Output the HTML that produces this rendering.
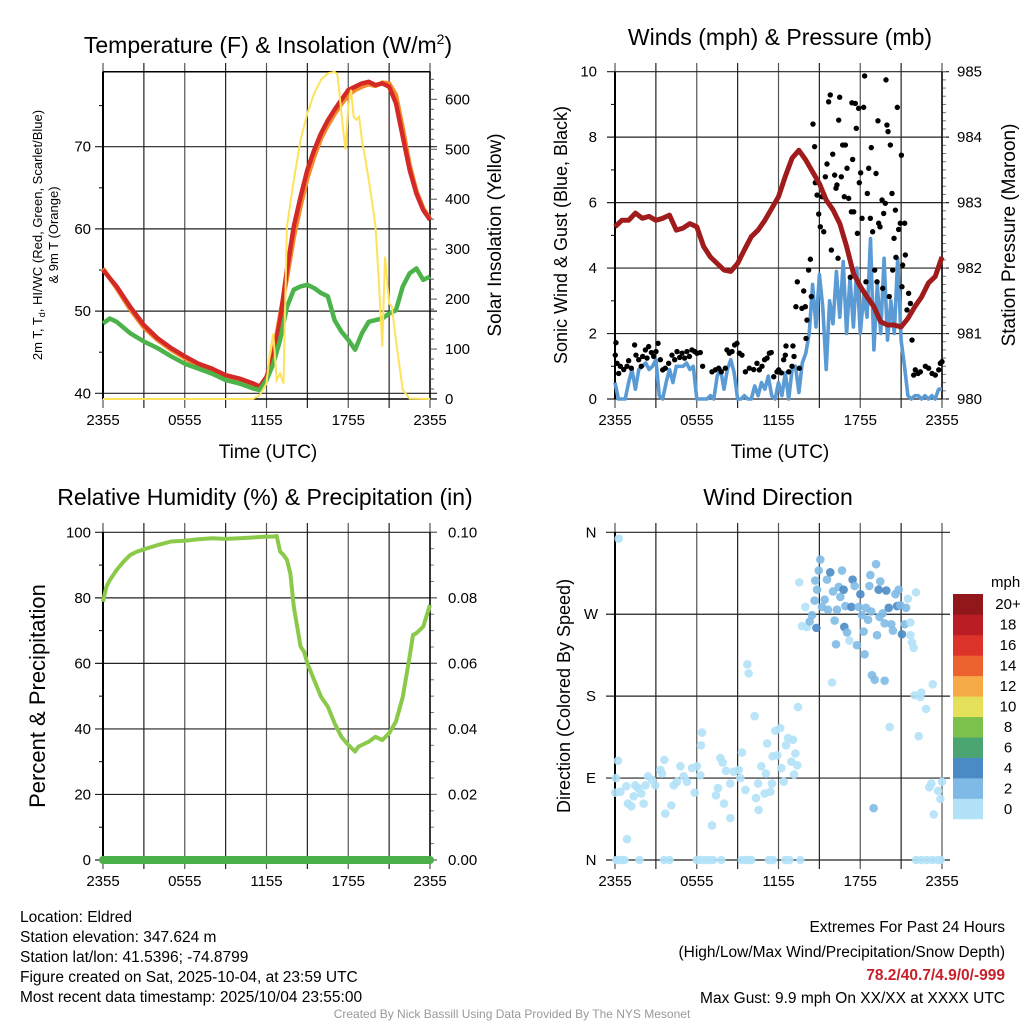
<!DOCTYPE html>
<html><head><meta charset="utf-8"><style>
html,body{margin:0;padding:0;background:#fff;}
svg{display:block;font-family:"Liberation Sans",sans-serif;}
</style></head><body>
<svg id="chart" width="1024" height="1024" viewBox="0 0 1024 1024" xmlns="http://www.w3.org/2000/svg">
<rect width="1024" height="1024" fill="#fff"/>
<g id="g1"></g>
<g id="g2"></g>
<g id="g3"></g>
<g id="g4"></g>
<g font-size="15.5" fill="#000">
<text x="20" y="922">Location: Eldred</text>
<text x="20" y="942">Station elevation: 347.624 m</text>
<text x="20" y="962">Station lat/lon: 41.5396; -74.8799</text>
<text x="20" y="982">Figure created on Sat, 2025-10-04, at 23:59 UTC</text>
<text x="20" y="1002">Most recent data timestamp: 2025/10/04 23:55:00</text>
</g>
<g font-size="15.5" text-anchor="end">
<text x="1005" y="932">Extremes For Past 24 Hours</text>
<text x="1005" y="957">(High/Low/Max Wind/Precipitation/Snow Depth)</text>
<text x="1005" y="980" fill="#c8202a" font-weight="bold">78.2/40.7/4.9/0/-999</text>
<text x="1005" y="1003">Max Gust: 9.9 mph On XX/XX at XXXX UTC</text>
</g>
<text x="512" y="1018" text-anchor="middle" font-size="12" fill="#999">Created By Nick Bassill Using Data Provided By The NYS Mesonet</text>
</svg>
<script>
// ---- data ----
const xLabels = ["2355","0555","1155","1755","2355"];
const tempHours = [0,1,2,3,4,5,6,7,8,9,10,11,11.5,12,12.5,13,13.5,14,14.5,15,15.5,16,16.5,17,17.5,18,18.5,19,19.5,20,20.5,21,21.5,22,22.5,23,23.5,24];
const tempRed = [55.0,53,50.5,48.3,46.7,45.5,44.5,43.6,43.0,42.2,41.8,41.2,40.8,42.0,44.5,48.9,55,60.3,63.9,67.2,69.6,71.6,73.2,74.5,75.7,76.9,77.3,77.7,77.9,77.5,77.7,77.3,75.3,71.2,67.2,64.3,62.3,61.1];
const temp9m = [55.2,52.8,50.2,48.0,46.5,45.3,44.3,43.4,42.8,42.0,41.6,41.0,40.7,41.8,44.8,49.5,54,59.0,62.8,66.2,68.8,71.0,72.6,74.0,75.2,76.3,76.9,77.3,77.6,77.4,77.8,77.7,76.3,72.2,67.8,64.6,62.5,61.2];
const dewHours = [0,0.5,1,2,3,4,5,6,7,8,9,10,11,11.5,12,12.5,13,13.5,14,14.5,15,15.5,16,16.5,17,17.5,18,18.5,19,19.5,20,20.5,21,21.5,22,22.5,23,23.5,24];
const dewpoint = [48.5,49.1,48.7,47.3,46.3,45.5,44.5,43.6,43.0,42.4,41.6,41.2,40.6,40.4,41.6,43.6,46.5,50.5,52.6,53.0,53.2,52.8,52.2,51.8,48.9,47.5,46.5,45.3,47.3,48.7,48.9,49.1,49.7,50.1,53,54.6,55.2,53.8,54.2];
const solarHours = [0,11,11.5,12,12.25,12.5,12.75,13,13.25,13.5,14,14.5,15,15.5,16,16.5,17,17.2,17.4,17.6,17.8,18,18.2,18.4,18.6,18.8,19,19.3,19.5,19.8,20,20.2,20.5,20.7,21,21.2,21.5,21.8,22,22.5,24];
const solar = [0,0,8,31,91,131,38,51,31,345,438,519,572,612,639,652,655,650,599,545,499,585,619,565,559,565,519,472,439,385,345,258,105,285,192,185,118,58,18,1,0];
const yTempTicks = [40,50,60,70];
const ySolarTicks = [0,100,200,300,400,500,600];

const presHours = [0,0.5,1,1.5,2,2.5,3,3.5,4,4.5,5,5.5,6,6.5,7,7.5,8,8.5,9,9.5,10,10.5,11,11.5,12,12.5,13,13.5,14,14.5,15,15.5,16,16.5,17,17.5,18,18.5,19,19.5,20,20.5,21,21.5,22,22.5,23,23.5,24];
const pressure = [982.63,982.73,982.73,982.84,982.76,982.79,982.73,982.76,982.81,982.58,982.61,982.68,982.63,982.33,982.17,982.07,981.97,981.95,982.07,982.28,982.48,982.58,982.73,982.91,983.09,983.4,983.68,983.80,983.65,983.47,983.29,983.04,982.89,982.68,982.33,981.92,981.72,981.56,981.41,981.18,981.13,981.13,981.1,981.23,981.41,981.56,981.77,981.87,982.17];
// sustained wind every 15 min
const windSpeed = [0.5,0,0,0, 0.5,0.9,0.3,0.9, 1.0,1.1,0.9,1.0, 1.2,0.1,0,0.5, 0.9,0.5,1.0,1.0, 1.0,1.1,0.9,1.0, 0,0,0,0, 0.1,0,0.7,0.9, 0.3,0.9,1.2,0.8, 0,0,0.1,0, 0,0.4,0.1,0.5, 0.3,0.7,0.1,0, 0.5,0.1,0.8,0, 0.9,1.0,0.2,1.1, 1.4,2.0,3.5,2.2, 3.8,2.8,0.9,3.0, 2.3,3.9,2.5,4.2, 2.0,3.7,2.2,4.0, 2.0,3.2,2.5,4.9, 1.5,3.5,2.0,4.3, 1.8,3.0,2.0,4.3, 1.8,1.0,0.1,0, 0.1,0.1,0,0.1, 0,0.1,0,0.3, 0.3];
const gustHours = [
0.07,0.02,0.15,0.27,0.39,0.64,0.88,1.0,1.2,1.44,
1.54,1.74,1.93,2.03,2.23,2.35,2.47,2.67,2.84,3.01,
3.16,3.33,3.5,3.69,3.94,4.18,4.38,4.55,4.75,4.92,
5.11,5.28,5.46,5.65,5.85,6.02,6.26,6.43,7.12,7.36,
7.61,7.8,8.1,8.22,8.39,8.59,8.78,8.95,9.13,9.32,
9.57,9.86,10.18,10.42,10.59,10.79,10.98,11.16,11.33,11.47,
11.65,11.89,12.01,12.21,12.38,12.5,12.55,12.75,12.99,13.06,
13.14,13.28,13.38,13.53,13.72,13.85,13.97,14.02,14.09,14.21,
14.34,14.41,14.53,14.65,14.7,14.83,14.95,15.07,15.19,15.32,
15.44,15.56,15.68,15.8,15.88,15.98,16.12,16.22,16.29,16.37,
16.42,16.49,16.61,16.71,16.83,16.91,17.03,17.15,17.27,17.35,
17.39,17.44,17.52,17.64,17.71,17.79,17.88,17.93,18.03,18.13,
18.25,18.32,18.42,18.52,18.62,18.74,18.81,18.91,19.06,19.16,
19.23,19.3,19.35,19.45,19.6,19.65,19.72,19.84,19.89,19.96,
20.04,20.13,20.21,20.33,20.38,20.48,20.58,20.62,20.72,20.82,
20.94,21.02,21.06,21.11,21.26,21.31,21.43,21.55,21.68,21.8,
21.92,22.04,22.24,22.41,22.78,23.02,23.27,23.51,23.76,23.88,24.0];
const gustSpeed = [
1.72,1.34,1.09,0.78,1.0,0.9,1.0,1.17,0.94,1.65,
1.34,1.2,1.0,1.3,1.5,1.25,1.6,1.42,1.3,1.45,
1.7,1.2,0.89,0.94,1.09,1.34,1.2,1.45,1.27,1.4,
1.25,1.45,1.3,1.5,1.45,1.4,1.42,1.0,0.83,0.89,
0.94,0.83,0.94,1.5,1.4,1.45,1.65,1.7,1.4,1.34,
0.83,0.94,0.9,1.09,0.89,1.0,1.2,1.25,1.4,1.42,
0.68,0.83,0.89,0.8,1.2,1.34,1.62,0.83,1.0,1.62,
1.3,2.82,3.58,0.94,2.77,3.3,2.82,1.85,2.41,3.94,
4.27,3.13,8.4,7.71,6.61,6.23,5.65,5.26,6.18,5.11,
6.79,7.18,9.08,9.29,4.55,7.48,6.84,6.44,6.54,4.3,
8.52,9.22,6.79,7.76,6.18,7.76,7.05,6.13,3.72,5.72,
9.05,7.32,5.72,9.03,8.27,5.06,8.88,6.61,6.91,5.52,
8.91,9.87,3.58,6.28,7.05,5.52,7.68,5.11,3.94,6.89,
3.58,8.5,5.37,5.26,6.08,3.38,5.67,5.98,9.75,8.37,
8.17,3.13,7.76,6.28,3.94,4.91,5.77,4.33,8.91,5.18,
5.37,7.45,3.43,4.09,5.37,4.4,2.72,3.23,2.92,1.8,
0.73,0.89,0.78,0.83,1.0,0.94,0.78,0.73,0.89,1.09,1.14];
const yWindTicks = [0,2,4,6,8,10];
const yPresTicks = [980,981,982,983,984,985];

const rhHours = [0,0.25,0.5,1,1.5,2,2.5,3,4,5,6,7,8,9,10,11,12,12.5,12.75,13,13.25,13.5,13.75,14,14.25,14.5,14.75,15,15.5,16,16.5,17,17.5,18,18.25,18.5,18.75,19,19.5,20,20.5,21,21.5,22,22.5,22.75,23,23.5,24];
const rh = [78.8,83.4,85.4,88.5,91,93.1,94.1,94.8,96.1,97.2,97.4,97.9,98.2,98,98.2,98.4,98.7,98.7,98.9,94.1,93.1,91.6,87.5,77.3,71.2,65.1,63.6,60,54.9,49.8,46.8,41.7,37.6,35.1,34.1,33.1,34.6,35.1,36.1,37.6,36.6,38.7,42.2,49.8,62,68.7,69.2,71.2,77.8];
const precipHours = [0,24];
const precip = [0,0];
const yRhTicks = [0,20,40,60,80,100];
const yPrecipTicks = ["0.00","0.02","0.04","0.06","0.08","0.10"];

const dirHours = [
0.27,0.22,0.07,0.02,0.39,0.83,0.95,1.2,0.88,1.37,
1.49,1.69,1.93,2.1,2.23,2.42,2.72,2.96,3.33,3.45,
3.62,3.69,4.13,4.31,4.55,4.8,5.04,5.28,5.65,5.85,
6.02,6.26,6.31,6.39,7.41,7.56,7.12,7.73,7.9,8.0,
8.15,8.46,8.46,8.71,9.08,9.2,9.32,9.57,9.71,9.81,
10.25,10.35,10.5,10.54,10.74,10.98,11.08,11.16,11.4,11.52,
11.57,11.77,11.91,12.13,12.21,12.38,12.55,12.7,12.94,13.06,
13.14,13.24,13.38,13.43,
13.53,13.72,13.97,14.09,14.29,14.46,14.65,14.7,14.78,14.83,
14.95,15.07,15.19,15.39,15.56,15.63,15.8,15.93,16.0,16.12,
16.22,16.29,16.42,16.54,16.66,16.78,16.83,16.91,17.03,17.2,
17.35,17.44,17.59,17.76,17.88,18.01,18.13,18.25,18.32,18.42,
18.57,18.67,18.74,18.81,18.86,18.98,19.06,19.16,19.23,19.35,
19.42,19.47,19.65,19.79,19.79,19.91,20.09,20.16,20.28,20.4,
20.58,20.7,20.82,20.94,21.06,21.26,21.36,21.5,21.68,21.68,
21.8,21.92,21.99,22.09,22.29,22.41,22.48,22.83,23.07,23.22,
23.32,23.39,23.71,23.88,24.0,
0.1,0.2,0.5,0.7,1.8,3.6,4.0,6.0,6.3,6.6,
6.9,7.2,7.8,9.3,9.6,9.8,10.0,11.3,11.6,12.5,
12.8,13.6,22.1,22.5,22.9,23.3,23.7,23.9];
const dirDeg = [
353,109,90,74,75,81,62,59,23,70,
82,79,73,62,82,92,88,82,99,95,
110,51,60,82,86,103,92,86,101,74,
103,93,126,140,71,79,38,112,107,62,
98,84,46,97,99,90,118,77,215,205,
158,68,84,55,103,73,95,128,75,84,
114,142,115,145,101,86,126,134,108,132,
94,117,104,168,
305,257,278,256,262,269,285,307,255,297,
318,330,278,286,308,275,316,195,295,263,
237,275,300,289,318,297,256,279,250,241,
278,308,301,236,278,292,269,251,226,277,
264,301,313,273,203,57,198,325,247,297,
267,306,271,260,197,296,277,146,259,252,
292,279,297,280,248,259,277,287,261,247,
239,233,181,294,136,179,184,166,80,84,
193,50,76,67,86,
0,0,0,0,0,0,0,0,0,0,
0,0,0,0,0,0,0,0,0,0,
0,0,0,0,0,0,0,0];
const dirSpeed = [
1,1,1,1,1,1,1,1,1,1,
1,1,1,1,1,1,1,1,1,1,
1,1,1,1,1,1,1,1,1,1,
1,1,1,1,1,1,1,1,1,1,
1,1,1,1,1,1,1,1,1,1,
1,1,1,1,1,1,1,1,1,1,
1,1,1,1,1,1,1,1,1,1,
1,1,1,1,
1,1,1,1,2.5,2.5,3.3,3.3,4.2,3.3,
3.3,3.3,2.5,2.5,2.5,2.5,4.2,1,2.5,3.3,
3.3,2.5,3.3,3.3,3.3,4.2,4.2,2.5,3.3,1,
4.2,4.2,3.3,3.3,3.3,4.2,2.5,3.3,3.3,2.5,
2.5,3.3,3.3,2.5,3.3,3.3,3.3,3.3,3.3,4.2,
2.5,3.3,2.5,3.3,3.3,4.2,4.2,1,2.5,2.5,
2.5,4.2,2.5,3.3,4.2,2.5,2.5,1,1,1,
1,1,1,1,1,1,1,1,1,1,
1,1,1,1,1,
1,1,1,1,1,1,1,1,1,1,
1,1,1,1,1,1,1,1,1,1,
1,1,1,1,1,1,1,1];
const dirLabels = ["N","E","S","W","N"];
const cbLabels = ["0","2","4","6","8","10","12","14","16","18","20+"];
const cbColors = ["#b3e2f8","#7fbae6","#4a8bc5","#4aa571","#7dc14d","#e5e05a","#f5a947","#ec622f","#dc3229","#bb1d24","#92171b"];

// ---- helpers ----
const NS="http://www.w3.org/2000/svg";
function mk(parent,tag,attrs,txt){const e=document.createElementNS(NS,tag);for(const k in attrs)e.setAttribute(k,attrs[k]);if(txt!==undefined)e.textContent=txt;parent.appendChild(e);return e;}
function xScale(x0,x1){return h=>x0+(h/24)*(x1-x0);}
function lin(d0,d1,r0,r1){return v=>r0+(v-d0)/(d1-d0)*(r1-r0);}
function pathD(xs,ys,fx,fy){return xs.map((h,i)=>(i?"L":"M")+fx(h).toFixed(1)+","+fy(ys[i]).toFixed(1)).join("");}

function frame(g,x0,x1,top,bot,gridTop,gridBot){
  for(let i=0;i<=8;i++){const x=x0+i*(x1-x0)/8;
    const l=mk(g,"line",{x1:x,x2:x,y1:gridTop,y2:gridBot,stroke:(i%2?"#222":"#555"),"stroke-width":1.2});
    
    }
  const lab=mk(g,"g",{"font-size":15,"text-anchor":"middle"});
  
  
  xLabels.forEach((s,i)=>{const t=mk(lab,"text",{x:x0+i*(x1-x0)/4,y:bot+26},s);
    
    });
}

// ---- Panel 1 ----
(function(){
  const g=document.getElementById("g1");
  const x0=103,x1=430,top=71.7,bot=399;
  const fx=xScale(x0,x1), fT=lin(40,70,393.3,146.7), fS=lin(0,600,399,99.3);
  const tt=mk(g,"text",{x:268,y:53,"text-anchor":"middle","font-size":23,},"");
  tt.innerHTML='Temperature (F) &amp; Insolation (W/m<tspan dy="-9" font-size="14">2</tspan><tspan dy="9">)</tspan>';
  frame(g,x0,x1,top,bot,63,408);
  yTempTicks.forEach(v=>{const y=fT(v);
    const l=mk(g,"line",{x1:95,x2:437,y1:y,y2:y,stroke:"#222","stroke-width":1.2});
     
    const t=mk(g,"text",{x:91,y:y+5,"text-anchor":"end","font-size":15},v);
     
    mk(g,"line",{x1:99,x2:103,y1:fT(v+5),y2:fT(v+5),stroke:"#000"});});
  mk(g,"line",{x1:x0,x2:x1,y1:top,y2:top,stroke:"#000","stroke-width":1.5});
  mk(g,"line",{x1:x0,x2:437,y1:bot,y2:bot,stroke:"#000","stroke-width":1.5});
  mk(g,"line",{x1:x0,x2:x0,y1:top,y2:bot,stroke:"#000","stroke-width":2});
  mk(g,"line",{x1:x1,x2:x1,y1:top,y2:bot,stroke:"#000","stroke-width":1.5});
  for(let v=0;v<=640;v+=20){const y=fS(v);mk(g,"line",{x1:x1,x2:x1+(v%100===0?7:4),y1:y,y2:y,stroke:"#555"});}
  ySolarTicks.forEach(v=>{const t=mk(g,"text",{x:445,y:fS(v)+5,"font-size":15},v);
     });
  const p1=mk(g,"path",{d:pathD(tempHours,temp9m,fx,fT),fill:"none",stroke:"#f58a2a","stroke-width":4.5,"stroke-linejoin":"round"});
   
  const p2=mk(g,"path",{d:pathD(tempHours,tempRed,fx,fT),fill:"none",stroke:"#d42a27","stroke-width":4.5,"stroke-linejoin":"round"});
   
  const p3=mk(g,"path",{d:pathD(dewHours,dewpoint,fx,fT),fill:"none",stroke:"#4cb34a","stroke-width":4.5,"stroke-linejoin":"round"});
   
  const p4=mk(g,"path",{d:pathD(solarHours,solar,fx,fS),fill:"none",stroke:"#fde25a","stroke-width":2});
   
  mk(g,"text",{x:268,y:458,"text-anchor":"middle","font-size":19,},"Time (UTC)");
  const yt=mk(g,"text",{transform:"translate(42,235) rotate(-90)","text-anchor":"middle","font-size":13,},"");
  yt.innerHTML='2m T, T<tspan font-size="9" dy="3">d</tspan><tspan dy="-3">, HI/WC (Red, Green, Scarlet/Blue)</tspan>';
  mk(g,"text",{transform:"translate(58,235) rotate(-90)","text-anchor":"middle","font-size":13,},"& 9m T (Orange)");
  mk(g,"text",{transform:"translate(501,235) rotate(-90)","text-anchor":"middle","font-size":19,},"Solar Insolation (Yellow)");
})();

// ---- Panel 2 ----
(function(){
  const g=document.getElementById("g2");
  const x0=615,x1=942,top=71.7,bot=399;
  const fx=xScale(x0,x1), fW=lin(0,10,399,71.7), fP=lin(980,985,399,71.7);
  mk(g,"text",{x:780,y:45,"text-anchor":"middle","font-size":23,},"Winds (mph) & Pressure (mb)");
  frame(g,x0,x1,top,bot,63,408);
  yWindTicks.forEach(v=>{const y=fW(v);
    const l=mk(g,"line",{x1:607,x2:949,y1:y,y2:y,stroke:"#222","stroke-width":1.2});
     
    const t=mk(g,"text",{x:597,y:y+5,"text-anchor":"end","font-size":15},v);
     
    if(v<10)mk(g,"line",{x1:611,x2:615,y1:fW(v+1),y2:fW(v+1),stroke:"#000"});});
  for(let v=980;v<=985.01;v+=0.125){const y=fP(v);mk(g,"line",{x1:x1,x2:x1+4,y1:y,y2:y,stroke:"#777"});}
  yPresTicks.forEach(v=>{const t=mk(g,"text",{x:957,y:fP(v)+5,"font-size":15},v);
     });
  mk(g,"line",{x1:x0,x2:x0,y1:top,y2:bot,stroke:"#000","stroke-width":2});
  mk(g,"line",{x1:x1,x2:x1,y1:top,y2:bot,stroke:"#000","stroke-width":1.5});
  const wh=windSpeed.map((v,i)=>i*0.25);
  const pw=mk(g,"path",{d:pathD(wh,windSpeed,fx,fW),fill:"none",stroke:"#5b9bd5","stroke-width":3.6,"stroke-linejoin":"round"});
   
  gustHours.forEach((h,i)=>{const c=mk(g,"circle",{cx:fx(h),cy:fW(gustSpeed[i]),r:2.7,fill:"#000"});
     });
  const pp=mk(g,"path",{d:pathD(presHours,pressure,fx,fP),fill:"none",stroke:"#a01b1c","stroke-width":5,"stroke-linejoin":"round"});
   
  mk(g,"text",{x:780,y:458,"text-anchor":"middle","font-size":19,},"Time (UTC)");
  mk(g,"text",{transform:"translate(567,235) rotate(-90)","text-anchor":"middle","font-size":18,},"Sonic Wind & Gust (Blue, Black)");
  mk(g,"text",{transform:"translate(1015,235) rotate(-90)","text-anchor":"middle","font-size":19,},"Station Pressure (Maroon)");
})();

// ---- Panel 3 ----
(function(){
  const g=document.getElementById("g3");
  const x0=103,x1=430,top=532.3,bot=860;
  const fx=xScale(x0,x1), fR=lin(0,100,860,532.3), fPr=lin(0,0.1,860,532.3);
  mk(g,"text",{x:265,y:505,"text-anchor":"middle","font-size":23,},"Relative Humidity (%) & Precipitation (in)");
  frame(g,x0,x1,top,bot,523,869);
  yRhTicks.forEach((v,i)=>{const y=fR(v);
    const l=mk(g,"line",{x1:95,x2:437,y1:y,y2:y,stroke:"#222","stroke-width":1.2});
     
    const t=mk(g,"text",{x:91,y:y+5,"text-anchor":"end","font-size":15},v);
     
    const t2=mk(g,"text",{x:448,y:y+5,"font-size":15},yPrecipTicks[i]);
     
    if(v<100)mk(g,"line",{x1:99,x2:103,y1:fR(v+10),y2:fR(v+10),stroke:"#000"});});
  for(let v=0;v<=100;v+=5){const y=fR(v);mk(g,"line",{x1:x1,x2:x1+(v%20===0?7:4),y1:y,y2:y,stroke:"#777"});}
  mk(g,"line",{x1:x0,x2:x0,y1:top,y2:bot,stroke:"#000","stroke-width":2});
  mk(g,"line",{x1:x1,x2:x1,y1:top,y2:bot,stroke:"#000","stroke-width":1.5});
  const pr=mk(g,"path",{d:pathD(rhHours,rh,fx,fR),fill:"none",stroke:"#8bc94a","stroke-width":4,"stroke-linejoin":"round"});
   
  const pp=mk(g,"path",{d:pathD(precipHours,precip,fx,fPr),fill:"none",stroke:"#4bb04a","stroke-width":8,"stroke-linecap":"round"});
   
  mk(g,"text",{transform:"translate(45,696) rotate(-90)","text-anchor":"middle","font-size":22,},"Percent & Precipitation");
})();

// ---- Panel 4 ----
(function(){
  const g=document.getElementById("g4");
  const x0=615,x1=942,top=532.3,bot=860;
  const fx=xScale(x0,x1), fD=lin(0,360,860,532.3);
  mk(g,"text",{x:778,y:505,"text-anchor":"middle","font-size":23,},"Wind Direction");
  frame(g,x0,x1,top,bot,523,869);
  dirLabels.forEach((s,i)=>{const y=fD(i*90);
    const l=mk(g,"line",{x1:606,x2:950,y1:y,y2:y,stroke:"#222","stroke-width":1.2});
     
    const t=mk(g,"text",{x:591,y:y+5,"text-anchor":"middle","font-size":15},s);
     });
  mk(g,"line",{x1:x0,x2:x0,y1:top,y2:bot,stroke:"#000","stroke-width":2});
  function col(s){return cbColors[Math.max(0,Math.min(10,Math.floor((s||0)/2)))];}
  dirHours.forEach((h,i)=>{const c=mk(g,"circle",{cx:fx(h),cy:fD(dirDeg[i]),r:4.3,fill:col(dirSpeed[i]),"fill-opacity":0.9});
     });
  mk(g,"text",{transform:"translate(570,696) rotate(-90)","text-anchor":"middle","font-size":18,},"Direction (Colored By Speed)");
  const cb=mk(g,"g",{});
   
  const cbTop=594,cbBot=819,n=cbColors.length,hh=(cbBot-cbTop)/n;
  cbColors.forEach((c,i)=>{const y=cbBot-(i+1)*hh;
    const r=mk(cb,"rect",{x:953,y:y,width:30,height:hh+0.3,fill:c});
     
    const t=mk(cb,"text",{x:1008,y:y+hh/2+5,"text-anchor":"middle","font-size":15},cbLabels[i]);
     });
  mk(cb,"text",{x:991,y:587,"font-size":15,},"mph");
})();
</script>
</body></html>
